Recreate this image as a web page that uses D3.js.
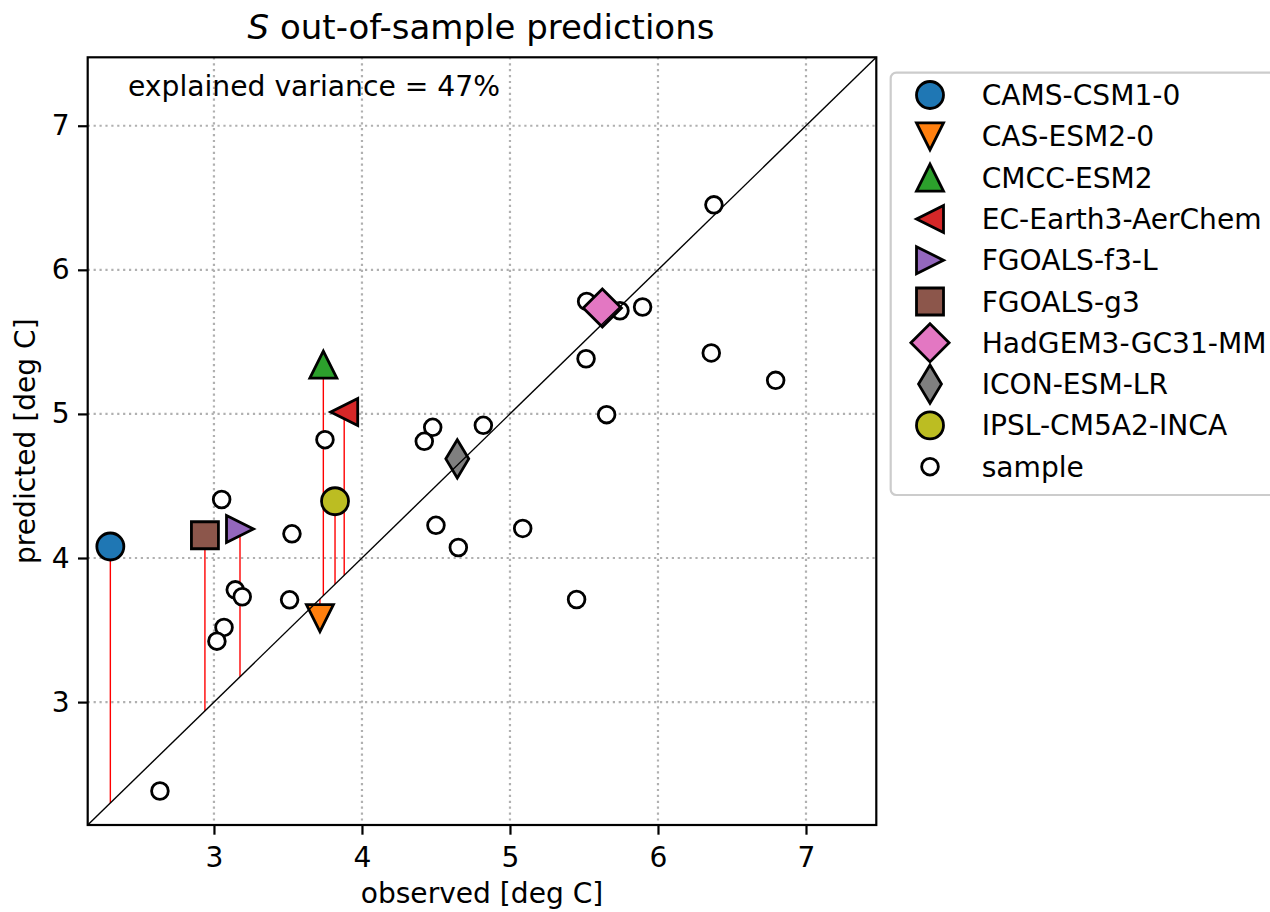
<!DOCTYPE html>
<html lang="en">

<head>
    <meta charset="UTF-8">
    <title>S out-of-sample predictions</title>
    <script src="https://d3js.org/d3.v7.min.js"></script>
</head>
<style>
    body {
        margin: 0;
        background: #fff;
    }

    text {
        font-family: "DejaVu Sans", sans-serif;
        fill: #000;
    }

    .axis path {
        display: none;
    }

    .axis line {
        stroke: #000;
        stroke-width: 2.2px;
    }

    .axis text {
        font-size: 28.1px;
    }

    .grid line {
        stroke: #b0b0b0;
        stroke-width: 2.2px;
        stroke-dasharray: 2.2 3.7;
    }
</style>

<body>
    <svg id="chart"></svg>

    <script>
        // model names, observed and predicted values
        var models = ["CAMS-CSM1-0", "CAS-ESM2-0", "CMCC-ESM2", "EC-Earth3-AerChem", "FGOALS-f3-L",
            "FGOALS-g3", "HadGEM3-GC31-MM", "ICON-ESM-LR", "IPSL-CM5A2-INCA"];
        var modelObserved = [2.30, 3.716, 3.739, 3.880, 3.176, 2.939, 5.624, 4.644, 3.818];
        var modelPredicted = [4.080, 3.583, 5.342, 5.014, 4.202, 4.158, 5.735, 4.688, 4.394];
        var modelMarkers = ["o", "v", "^", "<", ">", "s", "D", "d", "o"];
        var modelColors = ["#1f77b4", "#ff7f0e", "#2ca02c", "#d62728", "#9467bd",
            "#8c564b", "#e377c2", "#7f7f7f", "#bcbd22"];

        // the other models (sample)
        var sampleObserved = [3.750, 4.478, 4.421, 4.820, 3.052, 3.527, 4.500, 4.651, 5.086, 3.144,
            3.191, 3.511, 3.068, 3.020, 2.635, 5.518, 5.743, 5.896, 5.514, 6.360, 6.795, 5.653, 5.450, 6.378];
        var samplePredicted = [4.821, 4.907, 4.810, 4.921, 4.406, 4.168, 4.227, 4.073, 4.205, 3.779,
            3.731, 3.710, 3.518, 3.423, 2.383, 5.781, 5.716, 5.742, 5.383, 5.423, 5.233, 4.995, 3.712, 6.451];

        var ticks = [3, 4, 5, 6, 7];
        var axisRange = [2.147, 7.475];
        var explained = "explained variance = 47%";

        var W = 1270,
            H = 912;
        var margin = {
            top: 57.3,
            left: 87.7,
            right: 876.3,
            bottom: 825
        };

        var svg = d3.select("#chart")
            .attr("width", W)
            .attr("height", H);

        var x = d3.scaleLinear().domain(axisRange).range([margin.left, margin.right]);
        var y = d3.scaleLinear().domain(axisRange).range([margin.bottom, margin.top]);

        // matplotlib-like marker paths, centered on 0,0
        function markerPath(m, ms) {
            var h = ms / 2;
            if (m == "o") {
                var p = d3.path();
                p.arc(0, 0, h, 0, 2 * Math.PI);
                return p.toString();
            }
            if (m == "^") return "M0," + (-h) + "L" + (-h) + "," + h + "L" + h + "," + h + "Z";
            if (m == "v") return "M0," + h + "L" + (-h) + "," + (-h) + "L" + h + "," + (-h) + "Z";
            if (m == "<") return "M" + (-h) + ",0L" + h + "," + (-h) + "L" + h + "," + h + "Z";
            if (m == ">") return "M" + h + ",0L" + (-h) + "," + (-h) + "L" + (-h) + "," + h + "Z";
            if (m == "s") return "M" + (-h) + "," + (-h) + "H" + h + "V" + h + "H" + (-h) + "Z";
            var d = ms * Math.SQRT2 / 2;
            var dx = m == "d" ? d * 0.6 : d;
            return "M0," + (-d) + "L" + dx + ",0L0," + d + "L" + (-dx) + ",0Z";
        }

        var MS = 27,
            SMS = 16.7;

        // grid
        var grid = svg.append("g").attr("class", "grid");
        grid.selectAll(".gx").data(ticks).enter().append("line")
            .attr("x1", function(d) { return x(d); })
            .attr("x2", function(d) { return x(d); })
            .attr("y1", margin.top)
            .attr("y2", margin.bottom);
        grid.selectAll(".gy").data(ticks).enter().append("line")
            .attr("y1", function(d) { return y(d); })
            .attr("y2", function(d) { return y(d); })
            .attr("x1", margin.left)
            .attr("x2", margin.right);

        var modelData = models.map(function(name, i) {
            return {
                name: name,
                obs: modelObserved[i],
                pred: modelPredicted[i],
                marker: modelMarkers[i],
                color: modelColors[i]
            };
        });

        // red residual lines down/up to the 1:1 line
        svg.append("g").selectAll("line")
            .data(modelData)
            .enter().append("line")
            .attr("x1", function(d) { return x(d.obs); })
            .attr("x2", function(d) { return x(d.obs); })
            .attr("y1", function(d) { return y(d.pred); })
            .attr("y2", function(d) { return y(d.obs); })
            .attr("stroke", "red")
            .attr("stroke-width", 1.4);

        // sample points
        svg.append("g").selectAll("path")
            .data(sampleObserved.map(function(v, i) { return [v, samplePredicted[i]]; }))
            .enter().append("path")
            .attr("d", markerPath("o", SMS))
            .attr("transform", function(d) { return "translate(" + x(d[0]) + "," + y(d[1]) + ")"; })
            .attr("fill", "#fff")
            .attr("stroke", "#000")
            .attr("stroke-width", 2.8);

        // model points
        svg.append("g").selectAll("path")
            .data(modelData)
            .enter().append("path")
            .attr("d", function(d) { return markerPath(d.marker, MS); })
            .attr("transform", function(d) { return "translate(" + x(d.obs) + "," + y(d.pred) + ")"; })
            .attr("fill", function(d) { return d.color; })
            .attr("stroke", "#000")
            .attr("stroke-width", 2.8)
            .attr("stroke-linejoin", "miter");

        // 1:1 line
        svg.append("line")
            .attr("x1", x(axisRange[0]))
            .attr("y1", y(axisRange[0]))
            .attr("x2", x(axisRange[1]))
            .attr("y2", y(axisRange[1]))
            .attr("stroke", "#000")
            .attr("stroke-width", 1.4);

        // frame
        svg.append("rect")
            .attr("x", margin.left)
            .attr("y", margin.top)
            .attr("width", margin.right - margin.left)
            .attr("height", margin.bottom - margin.top)
            .attr("fill", "none")
            .attr("stroke", "#000")
            .attr("stroke-width", 2.2);

        // axes
        svg.append("g")
            .attr("class", "axis")
            .attr("transform", "translate(0," + margin.bottom + ")")
            .call(d3.axisBottom(x).tickValues(ticks).tickFormat(d3.format("d")).tickSize(9.7).tickPadding(12))
            .selectAll("text").attr("dy", "0.71em");

        svg.append("g")
            .attr("class", "axis")
            .attr("transform", "translate(" + margin.left + ",0)")
            .call(d3.axisLeft(y).tickValues(ticks).tickFormat(d3.format("d")).tickSize(9.7).tickPadding(8.5));

        // labels
        svg.append("text")
            .attr("x", (margin.left + margin.right) / 2)
            .attr("y", 903)
            .attr("text-anchor", "middle")
            .style("font-size", "28.1px")
            .text("observed [deg C]");

        svg.append("text")
            .attr("transform", "translate(35," + (margin.top + margin.bottom) / 2 + ") rotate(-90)")
            .attr("text-anchor", "middle")
            .style("font-size", "28.1px")
            .text("predicted [deg C]");

        var title = svg.append("text")
            .attr("x", (margin.left + margin.right) / 2 - 1)
            .attr("y", 39)
            .attr("text-anchor", "middle")
            .style("font-size", "34px");
        title.append("tspan").style("font-style", "italic").text("S");
        title.append("tspan").text(" out-of-sample predictions");

        svg.append("text")
            .attr("x", 128)
            .attr("y", 96)
            .style("font-size", "28.2px")
            .text(explained);

        // legend
        var legend = svg.append("g");
        legend.append("rect")
            .attr("x", 890.7)
            .attr("y", 72.7)
            .attr("width", 400)
            .attr("height", 422.3)
            .attr("rx", 5.6)
            .attr("fill", "#fff")
            .attr("stroke", "#cccccc")
            .attr("stroke-width", 2.2);

        var legendItems = modelData.concat([{
            name: "sample",
            marker: "o",
            color: "#fff",
            small: true
        }]);

        var rows = legend.selectAll(".row")
            .data(legendItems)
            .enter().append("g")
            .attr("transform", function(d, i) { return "translate(0," + (95 + i * 41.3) + ")"; });

        rows.append("path")
            .attr("d", function(d) { return markerPath(d.marker, d.small ? SMS : MS); })
            .attr("transform", "translate(930,0)")
            .attr("fill", function(d) { return d.color; })
            .attr("stroke", "#000")
            .attr("stroke-width", 2.8);

        rows.append("text")
            .attr("x", 981.7)
            .attr("y", 10)
            .style("font-size", "28.1px")
            .text(function(d) { return d.name; });
    </script>
</body>

</html>
